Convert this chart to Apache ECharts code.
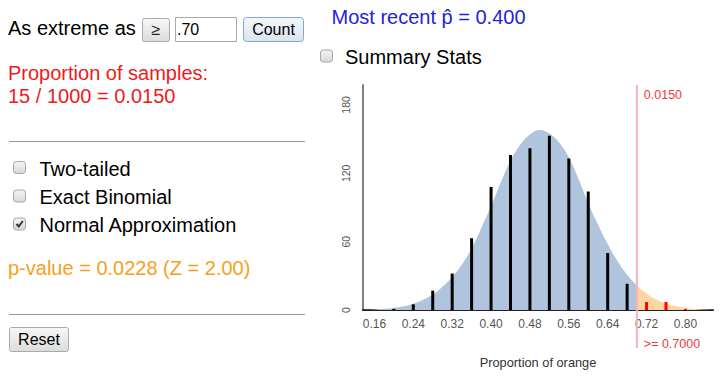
<!DOCTYPE html>
<html>
<head>
<meta charset="utf-8">
<script src="https://cdn.jsdelivr.net/npm/echarts@6/dist/echarts.min.js"></script>
<style>
html,body{margin:0;padding:0;background:#fff;}
#main{width:727px;height:380px;}
</style>
</head>
<body>
<div id="main"></div>
<script>
// ---- data ----
const binCenters = [0.20, 0.24, 0.28, 0.32, 0.36, 0.40, 0.44, 0.48, 0.52, 0.56, 0.60, 0.64, 0.68];
const binCounts  = [1, 5, 17, 32, 63, 108, 136, 142, 153, 133, 104, 50, 23];
const tailCenters = [0.72, 0.76, 0.80];
const tailCounts  = [7, 7, 1];
const curveX = [0.14, 0.16, 0.18, 0.20, 0.22, 0.24, 0.26, 0.28, 0.30, 0.32, 0.34, 0.36, 0.38, 0.40, 0.42, 0.44, 0.46, 0.48, 0.50, 0.52, 0.54, 0.56, 0.58, 0.60, 0.62, 0.64, 0.66, 0.68, 0.70];
const curveY = [0.2, 0.5, 1.0, 1.8, 3.2, 5.5, 9, 13.5, 20.5, 29, 40, 54, 72, 91, 112, 131, 145, 154, 158, 155, 147, 134, 115, 94, 75, 58, 43, 31, 21.5];
const tailCurveX = [0.70, 0.72, 0.74, 0.76, 0.78, 0.80, 0.82, 0.84, 0.86];
const tailCurveY = [21.5, 14.5, 9.3, 5.6, 3.2, 1.7, 0.9, 0.45, 0.2];
const xTickLabels = [0.16, 0.24, 0.32, 0.40, 0.48, 0.56, 0.64, 0.72, 0.80];
const yTickLabels = [0, 60, 120, 180];
const cutoff = 0.70;
const tailProportion = '0.0150';
const xMin = 0.1365, xMax = 0.8567, yMax = 197.5;

const FONT = '"Liberation Sans", Arial, sans-serif';
const MAIN = 20;
const zip = (xs, ys) => xs.map((x, i) => [x, ys[i]]);
const btnFill = {type:'linear', x:0, y:0, x2:0, y2:1, colorStops:[{offset:0,color:'#f7f7f7'},{offset:1,color:'#dcdcdc'}]};
const cntFill = {type:'linear', x:0, y:0, x2:0, y2:1, colorStops:[{offset:0,color:'#f4f7fa'},{offset:1,color:'#dbe3ec'}]};
const boxFill = {type:'linear', x:0, y:0, x2:0, y2:1, colorStops:[{offset:0,color:'#f5f5f5'},{offset:1,color:'#d8d8d8'}]};

function txt(id, x, y, text, size, fill, align) {
  return {type:'text', id, silent:true, style:{x, y, text, font: size + 'px ' + FONT, fill, align: align || 'left', verticalAlign:'middle'}};
}
function box(id, x, y, w, h, r, fill, stroke) {
  return {type:'rect', id, silent:true, shape:{x, y, width:w, height:h, r}, style:{fill, stroke, lineWidth:1}};
}

const panel = [
  txt('t1', 8, 28, 'As extreme as', MAIN, '#000'),
  box('b1', 142.5, 18.5, 27, 23, 2, btnFill, '#a9a9a9'),
  txt('b1t', 156, 29.5, '≥', 16, '#222', 'center'),
  box('in1', 175.5, 17.5, 61, 24, 0, '#fff', '#a9a9a9'),
  txt('in1t', 177, 29.5, '.70', 16, '#000'),
  box('b2', 243.5, 17.5, 60, 24, 3, cntFill, '#82a8d4'),
  txt('b2t', 273.5, 29.5, 'Count', 16, '#000', 'center'),
  txt('r1', 8, 73, 'Proportion of samples:', MAIN, '#f01a1a'),
  txt('r2', 8, 96, '15 / 1000 = 0.0150', MAIN, '#f01a1a'),
  {type:'line', id:'hr1', silent:true, shape:{x1:9, y1:141.5, x2:305, y2:141.5}, style:{stroke:'#9a9a9a', lineWidth:1}},
  box('c1', 13.5, 161.5, 12, 12, 3, boxFill, '#a6a6a6'),
  txt('c1t', 39.5, 168.5, 'Two-tailed', MAIN, '#000'),
  box('c2', 13.5, 190, 12, 12, 3, boxFill, '#a6a6a6'),
  txt('c2t', 39.5, 196.5, 'Exact Binomial', MAIN, '#000'),
  box('c3', 13.5, 218, 12, 12, 3, boxFill, '#a6a6a6'),
  {type:'polyline', id:'c3m', silent:true, shape:{points:[[16.5,224],[18.8,226.5],[22.8,221]]}, style:{stroke:'#333', lineWidth:2, fill:null}},
  txt('c3t', 39.5, 224.5, 'Normal Approximation', MAIN, '#000'),
  txt('pv', 8, 268, 'p-value = 0.0228 (Z = 2.00)', MAIN, '#f7a020'),
  {type:'line', id:'hr2', silent:true, shape:{x1:9, y1:314.5, x2:305, y2:314.5}, style:{stroke:'#9a9a9a', lineWidth:1}},
  box('b3', 9.5, 327.5, 59, 24, 2, btnFill, '#a9a9a9'),
  txt('b3t', 39, 339.5, 'Reset', 16, '#000', 'center'),
  txt('mr', 331.5, 17, 'Most recent p\u0302 = 0.400', MAIN, '#2222dd'),
  box('c4', 320.5, 50, 12, 12, 3, boxFill, '#a6a6a6'),
  txt('c4t', 345, 57, 'Summary Stats', MAIN, '#000')
];

const chart = echarts.init(document.getElementById('main'), null, {renderer:'svg', width:727, height:380});
const option = {
  animation: false,
  backgroundColor: '#fff',
  grid: {left:363, top:85, width:350, height:225, containLabel:false},
  xAxis: {
    type:'value', min:xMin, max:xMax,
    name:'Proportion of orange', nameLocation:'middle', nameGap:46,
    nameTextStyle:{fontSize:12.8, color:'#333', fontFamily:FONT},
    axisLine:{show:true, onZero:false, lineStyle:{color:'#222', width:2}},
    axisTick:{show:false},
    splitLine:{show:false},
    axisLabel:{customValues:xTickLabels, formatter:v => v.toFixed(2), fontSize:12, color:'#555', margin:8, fontFamily:FONT}
  },
  yAxis: {
    type:'value', min:0, max:yMax,
    axisLine:{show:true, lineStyle:{color:'#808080', width:2}},
    axisTick:{show:false},
    splitLine:{show:false},
    axisLabel:{customValues:yTickLabels, rotate:90, fontSize:10.5, color:'#555', margin:12, fontFamily:FONT}
  },
  series: [
    {type:'line', data:zip(curveX, curveY), smooth:0.4, showSymbol:false, symbol:'none', lineStyle:{width:0, opacity:0}, areaStyle:{color:'#b0c4de', opacity:1}, z:1, silent:true},
    {type:'line', data:zip(tailCurveX, tailCurveY), smooth:0.4, showSymbol:false, symbol:'none', lineStyle:{width:0, opacity:0}, areaStyle:{color:'#fdd6a3', opacity:1}, z:1, silent:true},
    {type:'bar', data:zip(binCenters, binCounts), barWidth:3, barGap:'-100%', itemStyle:{color:'#000'}, z:3, silent:true},
    {type:'bar', data:zip(tailCenters, tailCounts), barWidth:3, barGap:'-100%', itemStyle:{color:'#ff0000'}, z:3, silent:true}
  ],
  graphic: {elements: panel}
};
chart.setOption(option);

const pTop = chart.convertToPixel({gridIndex:0}, [cutoff, yMax]);
const pBase = chart.convertToPixel({gridIndex:0}, [cutoff, 0]);
chart.setOption({graphic:{elements:[
  {type:'line', id:'cut', silent:true, z:10, shape:{x1:pTop[0], y1:pTop[1], x2:pBase[0], y2:pBase[1] + 38}, style:{stroke:'#f7b0ba', lineWidth:2}},
  txt('cutTop', pTop[0] + 7, pTop[1] + 10, tailProportion, 12.5, '#f03a3a'),
  txt('cutBot', pBase[0] + 7, pBase[1] + 33.5, '>= ' + cutoff.toFixed(4), 12.5, '#f03a3a')
]}});
</script>
</body>
</html>
